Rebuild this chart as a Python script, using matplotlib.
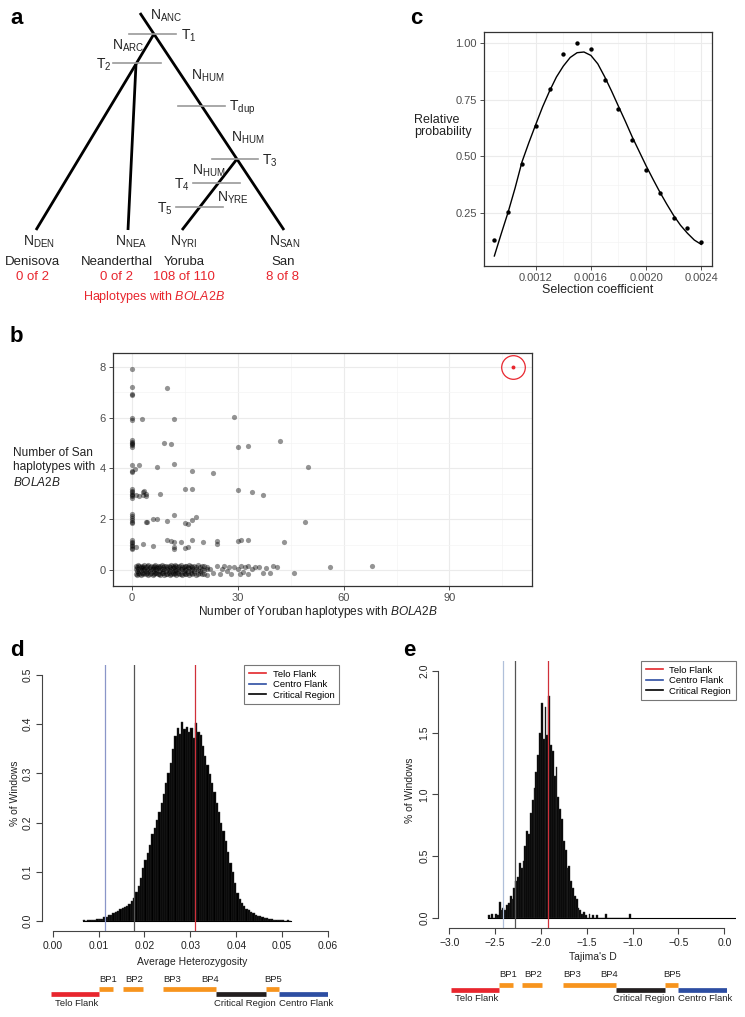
import numpy as np
import matplotlib
matplotlib.use('Agg')
import matplotlib.pyplot as plt
from matplotlib.lines import Line2D

plt.rcParams['font.family'] = ['Liberation Sans', 'DejaVu Sans']
plt.rcParams['mathtext.fontset'] = 'custom'
plt.rcParams['mathtext.rm'] = 'Liberation Sans'
plt.rcParams['mathtext.it'] = 'Liberation Sans:italic'
plt.rcParams['mathtext.bf'] = 'Liberation Sans:bold'
plt.rcParams['mathtext.default'] = 'regular'

# ---------------- data ----------------
# panel a
pop_names = ['Denisova', 'Neanderthal', 'Yoruba', 'San']
pop_codes = ['DEN', 'NEA', 'YRI', 'SAN']
pop_counts = ['0 of 2', '0 of 2', '108 of 110', '8 of 8']

# panel c
sel_coef = [0.0009, 0.0010, 0.0011, 0.0012, 0.0013, 0.0014, 0.0015, 0.0016,
            0.0017, 0.0018, 0.0019, 0.0020, 0.0021, 0.0022, 0.0023, 0.0024]
rel_prob = [0.132, 0.257, 0.466, 0.632, 0.797, 0.951, 1.000, 0.974,
            0.838, 0.710, 0.572, 0.440, 0.341, 0.231, 0.184, 0.124]
fit_x = [0.00090, 0.00095, 0.00100, 0.00105, 0.00110, 0.00115, 0.00120, 0.00125,
         0.00130, 0.00135, 0.00140, 0.00145, 0.00150, 0.00155, 0.00160, 0.00165,
         0.00170, 0.00175, 0.00180, 0.00185, 0.00190, 0.00195, 0.00200, 0.00205,
         0.00210, 0.00215, 0.00220, 0.00225, 0.00230, 0.00235, 0.00240]
fit_y = [0.062, 0.160, 0.255, 0.360, 0.475, 0.560, 0.640, 0.718,
         0.787, 0.849, 0.897, 0.935, 0.956, 0.959, 0.944, 0.907,
         0.850, 0.787, 0.720, 0.654, 0.585, 0.522, 0.459, 0.400,
         0.343, 0.290, 0.240, 0.197, 0.162, 0.132, 0.113]

# panel b (Yoruban count, San count incl. jitter as read)
yri_scatter = [0, 0, 0, 0, 0, 0, 0, 0, 0, 0, 0, 0, 0, 0, 0, 0, 0, 0, 0, 0, 0, 0,
               0, 0, 0, 0, 0, 0, 0, 0, 0, 0, 0, 0, 0,
               10, 2.9, 12, 29, 9, 11, 30, 33, 42,
               0.8, 2, 7, 12, 17, 23, 50,
               1.2, 2, 3, 4, 3, 4, 3.5, 8, 15, 17, 30, 34, 37,
               4, 4.2, 6, 7, 10, 12, 15, 16, 17, 18, 49,
               1, 3, 6, 10, 11, 12, 12, 12, 14, 15, 16, 17, 20, 24, 24, 30, 31, 33, 43]
san_scatter = [7.9, 7.2, 6.92, 6.88, 5.97, 5.92, 5.12, 5.05, 5.0, 4.95, 4.9, 4.85,
               4.13, 3.9, 3.85, 3.18, 3.12, 3.05, 3.0, 2.95, 2.9, 2.85, 2.2, 2.12,
               2.05, 1.98, 1.9, 1.85, 1.2, 1.12, 1.05, 1.0, 0.95, 0.88, 0.82,
               7.15, 5.95, 5.95, 6.02, 5.0, 4.96, 4.83, 4.87, 5.06,
               3.96, 4.13, 4.04, 4.18, 3.88, 3.83, 4.05,
               2.95, 2.93, 3.08, 3.0, 2.95, 2.93, 3.1, 2.99, 3.19, 3.17, 3.15, 3.07, 2.96,
               1.9, 1.88, 1.99, 2.0, 1.93, 2.18, 1.86, 1.82, 1.95, 2.1, 1.9,
               0.92, 1.04, 0.94, 1.19, 1.14, 1.11, 0.89, 0.83, 1.09, 0.85, 0.92, 1.17,
               1.1, 1.13, 1.01, 1.15, 1.19, 1.17, 1.09]
yri_row0 = [1.0, 1.3, 1.6, 2.0, 2.4, 2.8, 3.1, 3.5, 3.9, 4.2, 4.6, 5.0, 5.4, 5.8, 6.1,
            6.5, 6.9, 7.3, 7.7, 8.0, 8.4, 8.8, 9.2, 9.6, 10.0, 10.4, 10.7, 11.1, 11.5,
            11.9, 12.3, 12.6, 13.0, 13.4, 13.8, 14.2, 14.6, 15.0, 15.4, 15.8, 16.2,
            16.7, 17.1, 17.5, 18.0, 18.6, 19.2, 19.8, 20.5, 21.2]
san_row0_top = [0.16, 0.12, 0.18, 0.14, 0.10, 0.17, 0.13, 0.19, 0.11, 0.15, 0.18, 0.12,
                0.16, 0.10, 0.14, 0.19, 0.13, 0.17, 0.11, 0.15, 0.18, 0.12, 0.16, 0.14,
                0.10, 0.17, 0.13, 0.19, 0.15, 0.11, 0.18, 0.14, 0.12, 0.16, 0.19, 0.13,
                0.10, 0.17, 0.15, 0.12, 0.18, 0.14, 0.11, 0.16, 0.13, 0.19, 0.12, 0.15,
                0.17, 0.10]
san_row0_mid = [0.03, -0.02, 0.05, -0.04, 0.01, 0.06, -0.01, 0.04, -0.05, 0.02, 0.00,
                -0.03, 0.05, 0.02, -0.04, 0.03, -0.01, 0.06, -0.02, 0.01, 0.04, -0.05,
                0.02, -0.03, 0.05, 0.00, -0.02, 0.03, 0.06, -0.04, 0.01, -0.01, 0.04,
                -0.03, 0.02, 0.05, -0.05, 0.00, 0.03, -0.02, 0.06, -0.01, 0.02, -0.04,
                0.04, 0.01, -0.03, 0.05, -0.01, 0.02]
san_row0_bot = [-0.14, -0.18, -0.11, -0.16, -0.19, -0.12, -0.15, -0.10, -0.17, -0.13,
                -0.19, -0.14, -0.11, -0.18, -0.16, -0.12, -0.10, -0.17, -0.15, -0.19,
                -0.13, -0.11, -0.18, -0.14, -0.16, -0.12, -0.19, -0.15, -0.10, -0.17,
                -0.13, -0.18, -0.11, -0.16, -0.14, -0.19, -0.12, -0.15, -0.17, -0.10,
                -0.18, -0.13, -0.16, -0.11, -0.19, -0.14, -0.12, -0.17, -0.15, -0.18]
yri_row0_tail = [22, 23, 24, 25, 25.5, 26, 27, 27.5, 28, 29, 30, 30.5, 31, 31.5, 32, 33,
                 33, 34, 35, 36, 37, 38, 39, 40, 41, 46, 56, 68]
san_row0_tail = [0.05, -0.12, 0.14, -0.15, 0.02, 0.15, -0.05, 0.10, -0.14, 0.12, 0.02,
                 -0.15, 0.16, -0.08, 0.12, -0.16, 0.14, 0.04, 0.10, 0.12, -0.10, 0.08,
                 -0.12, 0.14, 0.13, -0.12, 0.10, 0.16]
bola2b_site = (108, 8)

# panel d: average heterozygosity histogram (% of windows)
het_bin_start = 0.0065
het_bin_width = 0.0005
het_pct = [0.002, 0.001, 0.002, 0.002, 0.003, 0.002, 0.004, 0.005, 0.004, 0.008,
           0.009, 0.012, 0.013, 0.016, 0.019, 0.021, 0.024, 0.026, 0.029, 0.031,
           0.034, 0.040, 0.048, 0.060, 0.072, 0.088, 0.108, 0.124, 0.138, 0.155,
           0.176, 0.190, 0.205, 0.222, 0.240, 0.258, 0.280, 0.300, 0.322, 0.350,
           0.375, 0.392, 0.380, 0.405, 0.390, 0.395, 0.385, 0.392, 0.372, 0.402,
           0.385, 0.378, 0.355, 0.335, 0.318, 0.298, 0.280, 0.262, 0.240, 0.222,
           0.200, 0.184, 0.162, 0.140, 0.118, 0.100, 0.078, 0.058, 0.045, 0.037,
           0.030, 0.025, 0.022, 0.018, 0.016, 0.013, 0.011, 0.010, 0.008, 0.007,
           0.006, 0.005, 0.004, 0.003, 0.003, 0.002, 0.002, 0.002, 0.001, 0.002, 0.001]
het_marks = [0.0310, 0.0115, 0.0177]      # Telo Flank, Centro Flank, Critical Region

# panel e: Tajima's D histogram (% of windows)
taj_bin_start = -2.58
taj_bin_width = 0.02
taj_pct = [0.02, 0.00, 0.03, 0.00, 0.03, 0.02, 0.13, 0.06, 0.08, 0.06,
           0.10, 0.12, 0.18, 0.15, 0.24, 0.30, 0.33, 0.44, 0.40, 0.46,
           0.58, 0.70, 0.68, 0.85, 0.95, 1.05, 1.18, 1.32, 1.50, 1.74,
           1.45, 1.71, 1.48, 1.80, 1.40, 1.35, 1.15, 1.22, 0.98, 0.88,
           0.80, 0.62, 0.55, 0.40, 0.42, 0.30, 0.24, 0.18, 0.15, 0.08,
           0.06, 0.03, 0.05, 0.02, 0.00, 0.03, 0.00, 0.02, 0.00, 0.02,
           0.00, 0.00, 0.00, 0.00, 0.03, 0.00, 0.00, 0.00, 0.00, 0.00,
           0.00, 0.00, 0.00, 0.00, 0.00, 0.00, 0.00, 0.03]
taj_break_max = 0.12
taj_marks = [-1.927, -2.413, -2.279]      # Telo Flank, Centro Flank, Critical Region

mark_names = ['Telo Flank', 'Centro Flank', 'Critical Region']

# region schematic (relative coordinates 0-100)
region_names = ['Telo Flank', 'BP1', 'BP2', 'BP3-BP4', 'Critical Region', 'BP5', 'Centro Flank']
region_start = [0, 17.6, 26.0, 40.6, 59.7, 77.5, 82.3]
region_end = [17.6, 22.6, 33.2, 59.7, 77.5, 82.3, 100]
bp_labels = ['BP1', 'BP2', 'BP3', 'BP4', 'BP5']
bp_label_pos = [17.6, 26.8, 40.7, 54.2, 77.1]

# ---------------- figure ----------------
W, H = 745, 1017
fig = plt.figure(figsize=(W / 100, H / 100), dpi=100)


def px_axes(l, t, r, b):
    return fig.add_axes([l / W, 1 - b / H, (r - l) / W, (b - t) / H])


RED = '#e8262e'
ORANGE = '#f7941d'
BLUE = '#2d4ea2'
DARK = '#231f20'

# ---------- panel a ----------
axa = px_axes(0, 0, 330, 310)
axa.set_xlim(0, 330)
axa.set_ylim(310, 0)
axa.axis('off')
branches = [((140, 13), (284, 230)), ((153.9, 34), (136, 64)), ((136, 64), (36, 230)),
            ((136, 64), (128, 230)), ((237, 159), (182, 230))]
for (x0, y0), (x1, y1) in branches:
    axa.plot([x0, x1], [y0, y1], color='black', lw=2.0, solid_capstyle='butt')
tmarks = [('1', 34, 129, 176, 181, 'left'), ('2', 63, 113, 161, 111, 'right'),
          ('dup', 106, 178, 225, 229, 'left'), ('3', 159, 212, 258, 262, 'left'),
          ('4', 183, 193, 240, 190, 'right'), ('5', 207, 176, 223, 173, 'right')]
for sub, y, xa, xb, xl, ha in tmarks:
    axa.plot([xa, xb], [y, y], color='#9a9a9a', lw=1.2)
    axa.text(xl, y + 2, 'T$_{%s}$' % sub, ha=ha, va='center', fontsize=10, color='#222222')
nlabels = [('ANC', 150, 14), ('ARC', 112, 44), ('HUM', 191, 74), ('HUM', 231, 136),
           ('HUM', 192, 169), ('YRE', 217, 196)]
for sub, x, y in nlabels:
    axa.text(x, y + 2, 'N$_{%s}$' % sub, ha='left', va='center', fontsize=10, color='#222222')
leaf_x = [23, 115, 170, 269]
name_x = [32, 117, 184, 283]
for code, lx, nm, nx, cnt in zip(pop_codes, leaf_x, pop_names, name_x, pop_counts):
    axa.text(lx, 242, 'N$_{%s}$' % code, ha='left', va='center', fontsize=10, color='#222222')
    axa.text(nx, 262, nm, ha='center', va='center', fontsize=9.5, color='#222222')
    axa.text(nx, 277, cnt, ha='center', va='center', fontsize=9.5, color=RED)
axa.text(154, 297, 'Haplotypes with $\\mathit{BOLA2B}$', ha='center', va='center',
         fontsize=9, color=RED)

# ---------- panel c ----------
axc = px_axes(484, 32, 712, 266)
axc.set_xlim(0.000825, 0.002478)
axc.set_ylim(0.018, 1.047)
axc.set_xticks([0.0012, 0.0016, 0.0020, 0.0024])
axc.set_xticklabels(['0.0012', '0.0016', '0.0020', '0.0024'])
axc.set_xticks([0.0010, 0.0014, 0.0018, 0.0022], minor=True)
axc.set_yticks([0.25, 0.50, 0.75, 1.00])
axc.set_yticklabels(['0.25', '0.50', '0.75', '1.00'])
axc.set_yticks([0.125, 0.375, 0.625, 0.875], minor=True)
axc.grid(True, which='major', color='#ebebeb', lw=0.8)
axc.grid(True, which='minor', color='#f4f4f4', lw=0.5)
axc.set_axisbelow(True)
axc.tick_params(which='major', length=3, width=0.6, color='#333333', labelsize=8,
                labelcolor='#4d4d4d', pad=2)
axc.tick_params(which='minor', length=0)
for s in axc.spines.values():
    s.set_color('#333333')
    s.set_linewidth(0.9)
axc.plot(fit_x, fit_y, color='black', lw=1.0)
axc.scatter(sel_coef, rel_prob, s=10, color='black', zorder=3, linewidths=0)
fig.text(414 / W, 1 - 126 / H, 'Relative\nprobability', ha='left', va='center',
         fontsize=9, color='#222222', linespacing=1.1)
fig.text(598 / W, 1 - 290 / H, 'Selection coefficient', ha='center', va='center',
         fontsize=9, color='#222222')

# ---------- panel b ----------
axb = px_axes(113, 353, 532, 586)
axb.set_xlim(-5.4, 113.4)
axb.set_ylim(-0.63, 8.54)
axb.set_xticks([0, 30, 60, 90])
axb.set_xticks([15, 45, 75, 105], minor=True)
axb.set_yticks([0, 2, 4, 6, 8])
axb.set_yticks([1, 3, 5, 7], minor=True)
axb.grid(True, which='major', color='#ebebeb', lw=0.8)
axb.grid(True, which='minor', color='#f4f4f4', lw=0.5)
axb.set_axisbelow(True)
axb.tick_params(which='major', length=3, width=0.6, color='#333333', labelsize=8,
                labelcolor='#4d4d4d', pad=2)
axb.tick_params(which='minor', length=0)
for s in axb.spines.values():
    s.set_color('#333333')
    s.set_linewidth(0.9)
pt_style = dict(s=14, color='black', alpha=0.42, linewidths=0)
axb.scatter(yri_scatter, san_scatter, **pt_style)
for yy in (san_row0_top, san_row0_mid, san_row0_bot):
    axb.scatter(yri_row0, yy, **pt_style)
axb.scatter(yri_row0_tail, san_row0_tail, **pt_style)
axb.scatter([bola2b_site[0]], [bola2b_site[1]], s=8, color=RED, zorder=4, linewidths=0)
axb.plot([bola2b_site[0]], [bola2b_site[1]], marker='o', ms=17, mfc='none', mec=RED,
         mew=0.9, zorder=4)
fig.text(13 / W, 1 - 468 / H, 'Number of San\nhaplotypes with\n$\\mathit{BOLA2B}$',
         ha='left', va='center', fontsize=8.6, color='#222222', linespacing=1.3)
fig.text(318 / W, 1 - 612 / H, 'Number of Yoruban haplotypes with $\\mathit{BOLA2B}$',
         ha='center', va='center', fontsize=8.6, color='#222222')


# ---------- panels d & e ----------
def r_style(ax, xb, yb):
    for k in ('top', 'right'):
        ax.spines[k].set_visible(False)
    ax.spines['left'].set_bounds(*yb)
    ax.spines['bottom'].set_bounds(*xb)
    for k in ('left', 'bottom'):
        ax.spines[k].set_color('#444444')
        ax.spines[k].set_linewidth(0.8)
    ax.tick_params(length=4.5, width=0.8, color='#444444', labelsize=7.5,
                   labelcolor='#222222')
    ax.tick_params(axis='x', pad=3)
    ax.tick_params(axis='y', pad=2)


def legend(ax):
    handles = [Line2D([], [], color='#e3262b', lw=1.2),
               Line2D([], [], color=BLUE, lw=1.2),
               Line2D([], [], color='black', lw=1.2)]
    lg = ax.legend(handles, mark_names, loc='upper right', bbox_to_anchor=(1, 1),
                   borderaxespad=0, fontsize=6.8, frameon=True, fancybox=False,
                   handlelength=1.8, handletextpad=0.7, labelspacing=0.15,
                   borderpad=0.5)
    lg.get_frame().set_edgecolor('#555555')
    lg.get_frame().set_linewidth(0.8)


axd = px_axes(41.7, 665, 339, 931)
axd.set_xlim(-0.0024, 0.0624)
axd.set_ylim(-0.02, 0.52)
het_centers = het_bin_start + het_bin_width * (np.arange(len(het_pct)) + 0.5)
axd.bar(het_centers, het_pct, width=het_bin_width, color='black', linewidth=0.3,
        edgecolor='#333333')
axd.plot([het_bin_start, het_bin_start + het_bin_width * len(het_pct)], [0, 0],
         color='black', lw=0.8)
axd.axvline(het_marks[0], color='#d0303a', lw=0.9)
axd.axvline(het_marks[1], color='#8a96c8', lw=0.9)
axd.axvline(het_marks[2], color='#555555', lw=0.9)
axd.set_xticks([0.00, 0.01, 0.02, 0.03, 0.04, 0.05, 0.06])
axd.set_xticklabels(['0.00', '0.01', '0.02', '0.03', '0.04', '0.05', '0.06'])
axd.set_yticks([0.0, 0.1, 0.2, 0.3, 0.4, 0.5])
axd.set_yticklabels(['0.0', '0.1', '0.2', '0.3', '0.4', '0.5'], rotation=90, va='center')
r_style(axd, (0, 0.06), (0, 0.5))
legend(axd)
fig.text(15 / W, 1 - 793 / H, '% of Windows', rotation=90, ha='center', va='center',
         fontsize=7.5, color='#222222')
fig.text(192 / W, 1 - 962 / H, 'Average Heterozygosity', ha='center', va='center',
         fontsize=7.5, color='#222222')

axe = px_axes(438.3, 661, 735.7, 927.6)
axe.set_xlim(-3.12, 0.124)
axe.set_ylim(-0.08, 2.08)
taj_centers = taj_bin_start + taj_bin_width * (np.arange(len(taj_pct)) + 0.5)
axe.bar(taj_centers, taj_pct, width=taj_bin_width, color='black', linewidth=0.3,
        edgecolor='#333333')
axe.plot([taj_bin_start, taj_break_max], [0, 0], color='black', lw=0.8)
axe.axvline(taj_marks[0], color='#d0303a', lw=0.9)
axe.axvline(taj_marks[1], color='#b0c0da', lw=0.9)
axe.axvline(taj_marks[2], color='#555555', lw=0.9)
axe.set_xticks([-3.0, -2.5, -2.0, -1.5, -1.0, -0.5, 0.0])
axe.set_xticklabels(['\u22123.0', '\u22122.5', '\u22122.0', '\u22121.5', '\u22121.0',
                     '\u22120.5', '0.0'])
axe.set_yticks([0.0, 0.5, 1.0, 1.5, 2.0])
axe.set_yticklabels(['0.0', '0.5', '1.0', '1.5', '2.0'], rotation=90, va='center')
r_style(axe, (-3.0, 0.0), (0, 2.0))
legend(axe)
fig.text(410 / W, 1 - 790 / H, '% of Windows', rotation=90, ha='center', va='center',
         fontsize=7.5, color='#222222')
fig.text(593 / W, 1 - 957 / H, "Tajima's D", ha='center', va='center',
         fontsize=7.5, color='#222222')

# ---------- region schematics ----------
region_colors = [RED, ORANGE, ORANGE, ORANGE, DARK, ORANGE, BLUE]
region_high = [False, True, True, True, False, True, False]


def schematic(l, r, top):
    ax = px_axes(l, top, r, top + 40)
    ax.set_xlim(0, 100)
    ax.set_ylim(40, 0)
    ax.axis('off')
    for s0, s1, c, hi in zip(region_start, region_end, region_colors, region_high):
        y = 19 if hi else 24
        ax.plot([s0, s1], [y, y], color=c, lw=3.4, solid_capstyle='butt')
    for lab, p in zip(bp_labels, bp_label_pos):
        ax.text(p, 9, lab, ha='left', va='center', fontsize=6.8, color='#222222')
    ax.text(1.6, 33, 'Telo Flank', ha='left', va='center', fontsize=6.8, color='#222222')
    ax.text(58.9, 33, 'Critical Region', ha='left', va='center', fontsize=6.8, color='#222222')
    ax.text(82.3, 33, 'Centro Flank', ha='left', va='center', fontsize=6.8, color='#222222')


schematic(50.5, 328, 970)
schematic(450.5, 727, 965.5)

# ---------- panel letters ----------
for lab, x, y in [('a', 10, 18), ('c', 410, 18), ('b', 10, 337), ('d', 10, 650), ('e', 403, 650)]:
    fig.text(x / W, 1 - y / H, lab, ha='left', va='center', fontsize=16, fontweight='bold')

fig.savefig('out.png', dpi=100)
